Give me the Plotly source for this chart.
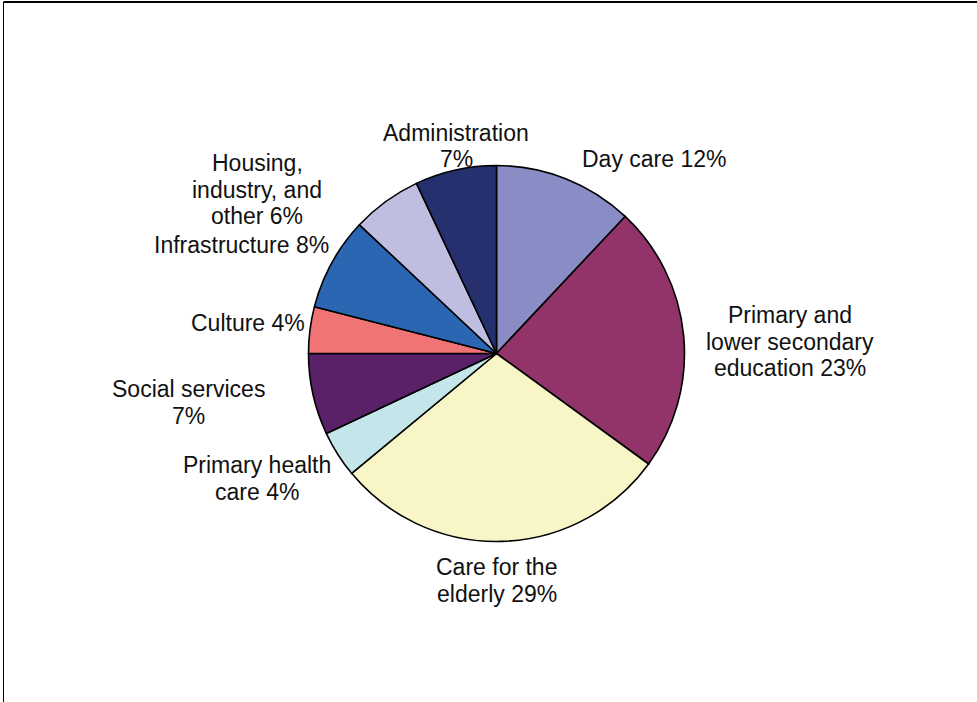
import plotly.graph_objects as go

categories = ["Day care", "Primary and lower secondary education", "Care for the elderly",
              "Primary health care", "Social services", "Culture", "Infrastructure",
              "Housing, industry, and other", "Administration"]
values = [12, 23, 29, 4, 7, 4, 8, 6, 7]
colors = ["#8a8cc6", "#92346a", "#f8f6c6", "#c4e6ea", "#5a2068", "#f07474",
          "#2a66b2", "#c0bee0", "#27306e"]
label_lines = [["Day care 12%"],
               ["Primary and", "lower secondary", "education 23%"],
               ["Care for the", "elderly 29%"],
               ["Primary health", "care 4%"],
               ["Social services", "7%"],
               ["Culture 4%"],
               ["Infrastructure 8%"],
               ["Housing,", "industry, and", "other 6%"],
               ["Administration", "7%"]]
# label centre positions in pixels (x centre, y of first line from top)
label_px = [(654, 159), (790, 315), (497, 567), (257, 465), (188, 389),
            (248, 323), (241, 245), (257, 163), (456, 133)]
LINE_GAP = 26.5

W, H = 977, 702
cx, cy, r = 496.5, 353.5, 188

fig = go.Figure(go.Pie(
    labels=categories, values=values, sort=False, direction="clockwise", rotation=0,
    marker=dict(colors=colors, line=dict(color="#000000", width=1.6)),
    textinfo="none", hoverinfo="label+percent", showlegend=False,
    domain=dict(x=[(cx - r) / W, (cx + r) / W], y=[(H - cy - r) / H, (H - cy + r) / H]),
))

for lines, (px, py) in zip(label_lines, label_px):
    for i, line in enumerate(lines):
        fig.add_annotation(x=px / W, y=1 - (py + i * LINE_GAP) / H, xref="paper", yref="paper",
                           text=line, showarrow=False, xanchor="center", yanchor="middle",
                           align="center",
                           font=dict(family="Liberation Sans, Arial, sans-serif", size=23,
                                     color="#111111"))

fig.add_shape(type="line", xref="paper", yref="paper", x0=3.5 / W, x1=1, y0=1 - 2 / H, y1=1 - 2 / H,
              line=dict(color="#000000", width=2))
fig.add_shape(type="line", xref="paper", yref="paper", x0=3.5 / W, x1=3.5 / W, y0=0, y1=1 - 2 / H,
              line=dict(color="#000000", width=1))

fig.update_layout(width=W, height=H, margin=dict(l=0, r=0, t=0, b=0),
                  paper_bgcolor="white", plot_bgcolor="white")
fig.write_html("out.html", config={"displayModeBar": False},
               post_script="document.body.style.margin='0px';document.body.style.overflow='hidden';")
